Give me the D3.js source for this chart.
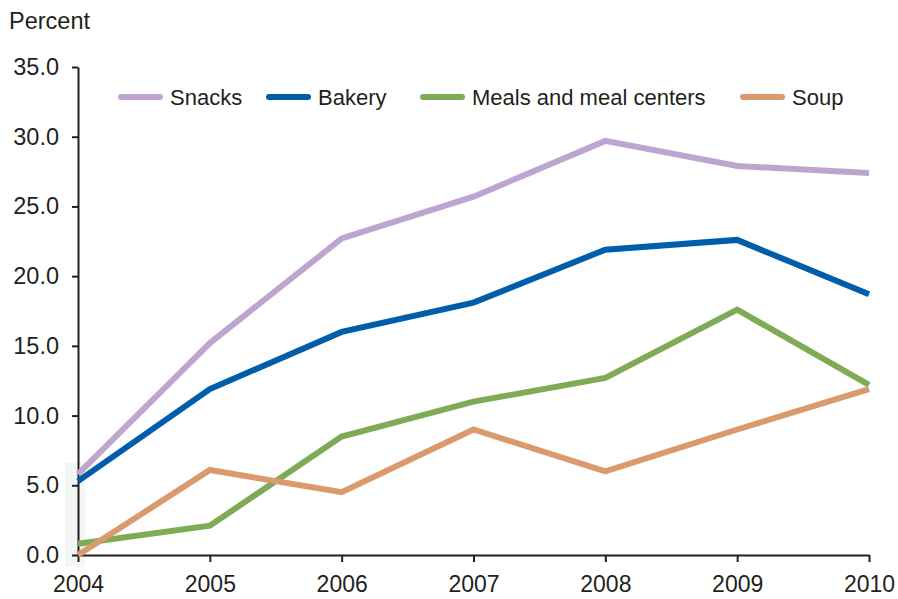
<!DOCTYPE html>
<html>
<head>
<meta charset="utf-8">
<script src="https://cdn.jsdelivr.net/npm/d3@7"></script>
<style>
  body { margin: 0; background: #fff; }
  svg { font-family: "Liberation Sans", Arial, sans-serif; }
</style>
</head>
<body>
<div id="chart"></div>
<script>
const width = 898;
const height = 599;

// data
const years = [2004, 2005, 2006, 2007, 2008, 2009, 2010];
const snacks = [5.8, 15.2, 22.7, 25.7, 29.7, 27.9, 27.4];
const bakery = [5.3, 11.9, 16.0, 18.1, 21.9, 22.6, 18.7];
const meals = [0.8, 2.1, 8.5, 11.0, 12.7, 17.6, 12.2];
const soup = [0.0, 6.1, 4.5, 9.0, 6.0, 9.0, 11.9];
const yTicks = [0, 5, 10, 15, 20, 25, 30, 35];

const seriesNames = ["Snacks", "Bakery", "Meals and meal centers", "Soup"];
const seriesValues = [snacks, bakery, meals, soup];
const colors = ["#bea5d0", "#005daa", "#7fab56", "#da9a6d"];

const margin = { top: 67, right: 29, bottom: 44, left: 78 };

const x = d3.scaleLinear()
  .domain([2004, 2010])
  .range([margin.left, width - margin.right]);
const y = d3.scaleLinear()
  .domain([0, 35])
  .range([height - margin.bottom, margin.top]);

const svg = d3.select("#chart").append("svg")
  .attr("width", width)
  .attr("height", height);

// faint grey patch at the bottom-left of the original
svg.append("rect")
  .attr("x", 65).attr("y", 463)
  .attr("width", 20).attr("height", 104)
  .attr("fill", "#f4f6f5");

// y axis
const yAxis = svg.append("g")
  .attr("transform", `translate(${margin.left},0)`)
  .call(d3.axisLeft(y).tickValues(yTicks).tickFormat(d3.format(".1f")).tickSize(6).tickSizeOuter(0));
yAxis.select(".domain").attr("stroke", "#231f20").attr("stroke-width", 2);
yAxis.selectAll(".tick line").attr("stroke", "#231f20").attr("stroke-width", 2);
yAxis.selectAll(".tick text")
  .attr("x", -19)
  .attr("fill", "#231f20")
  .style("font-size", "23.5px");

// x axis
const xAxis = svg.append("g")
  .attr("transform", `translate(0,${y(0)})`)
  .call(d3.axisBottom(x).tickValues(years).tickFormat(d3.format("d")).tickSize(7).tickSizeOuter(0));
xAxis.select(".domain").attr("stroke", "#231f20").attr("stroke-width", 2);
xAxis.selectAll(".tick line").attr("stroke", "#231f20").attr("stroke-width", 2);
xAxis.selectAll(".tick text")
  .attr("y", 21)
  .attr("fill", "#231f20")
  .style("font-size", "23px");

svg.append("text")
  .attr("x", 9).attr("y", 29)
  .attr("fill", "#231f20")
  .style("font-size", "23.5px")
  .text("Percent");

// lines
const line = d3.line()
  .x((d, i) => x(years[i]))
  .y(d => y(d));

seriesValues.forEach((vals, k) => {
  svg.append("path")
    .datum(vals)
    .attr("fill", "none")
    .attr("stroke", colors[k])
    .attr("stroke-width", 6)
    .attr("stroke-linejoin", "miter")
    .attr("stroke-linecap", "butt")
    .attr("d", line);
});

// legend
const legendX = [118, 266, 420, 740];
const legend = svg.append("g").attr("transform", "translate(0,97)");
seriesNames.forEach((name, k) => {
  legend.append("line")
    .attr("x1", legendX[k] + 3).attr("x2", legendX[k] + 42)
    .attr("y1", 0).attr("y2", 0)
    .attr("stroke", colors[k])
    .attr("stroke-width", 6)
    .attr("stroke-linecap", "round");
  legend.append("text")
    .attr("x", legendX[k] + 52)
    .attr("y", 8)
    .attr("fill", "#231f20")
    .style("font-size", "22px")
    .text(name);
});
</script>
</body>
</html>
